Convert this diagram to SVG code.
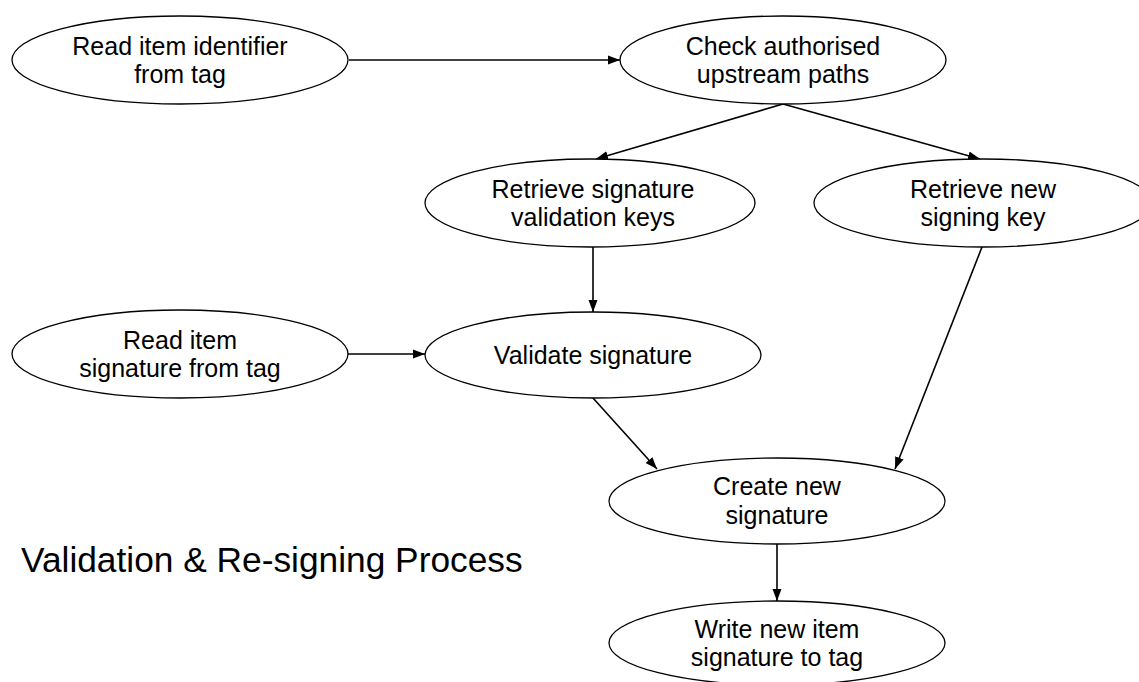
<svg xmlns="http://www.w3.org/2000/svg" width="1139" height="682" viewBox="0 0 1139 682">
<defs>
<marker id="arr" viewBox="0 0 12 10" refX="12" refY="5" markerWidth="12" markerHeight="10" markerUnits="userSpaceOnUse" orient="auto">
<path d="M0,0.5 L12,5 L0,9.5 Z" fill="#000"/>
</marker>
</defs>
<style>
.n ellipse{fill:#fff;stroke:#000;stroke-width:1.3}
.n text{font-family:"Liberation Sans",Arial,sans-serif;font-size:25px;fill:#000;text-anchor:middle}
.c line{stroke:#000;stroke-width:1.6;marker-end:url(#arr)}
.title{font-family:"Liberation Sans",Arial,sans-serif;font-size:35.3px;fill:#000}
</style>
<rect width="1139" height="682" fill="#fff"/>
<g class="c" id="connectors">
<line x1="349" y1="60" x2="620" y2="60"/>
<line x1="783" y1="104" x2="596" y2="159"/>
<line x1="783" y1="104" x2="980" y2="159"/>
<line x1="593" y1="246" x2="593" y2="312"/>
<line x1="348" y1="354" x2="425" y2="354"/>
<line x1="593" y1="398" x2="657" y2="469"/>
<line x1="982" y1="247" x2="895" y2="469"/>
<line x1="777" y1="544" x2="777" y2="601"/>
</g>
<g class="n" id="n1"><ellipse cx="180" cy="60" rx="168" ry="44"/><text x="180" y="55">Read item identifier</text><text x="180" y="83">from tag</text></g>
<g class="n" id="n2"><ellipse cx="783" cy="60" rx="163" ry="44"/><text x="783" y="55">Check authorised</text><text x="783" y="83">upstream paths</text></g>
<g class="n" id="n3"><ellipse cx="590" cy="203" rx="165" ry="44"/><text x="593" y="198">Retrieve signature</text><text x="593" y="226">validation keys</text></g>
<g class="n" id="n4"><ellipse cx="983" cy="203" rx="169" ry="44"/><text x="983" y="198">Retrieve new</text><text x="983" y="226">signing key</text></g>
<g class="n" id="n5"><ellipse cx="180" cy="354" rx="168" ry="44"/><text x="180" y="349">Read item</text><text x="180" y="377">signature from tag</text></g>
<g class="n" id="n6"><ellipse cx="593" cy="355" rx="168" ry="43"/><text x="593" y="364">Validate signature</text></g>
<g class="n" id="n7"><ellipse cx="777" cy="501" rx="168" ry="43"/><text x="777" y="495">Create new</text><text x="777" y="524">signature</text></g>
<g class="n" id="n8"><ellipse cx="777" cy="643" rx="168" ry="42"/><text x="777" y="638">Write new item</text><text x="777" y="666">signature to tag</text></g>
<text class="title" x="21" y="572">Validation &amp; Re-signing Process</text>
</svg>
